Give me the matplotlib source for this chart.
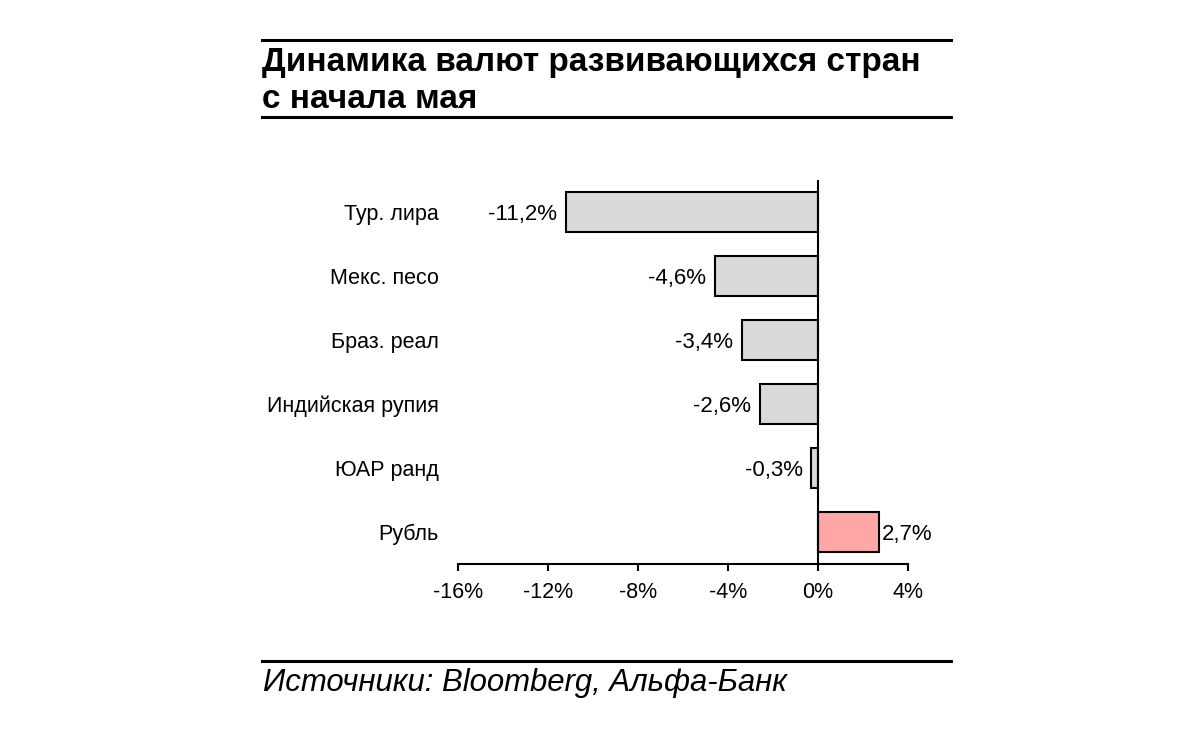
import matplotlib.pyplot as plt
from matplotlib.lines import Line2D

plt.rcParams['font.family'] = ['Liberation Sans', 'DejaVu Sans']

W, H = 1180, 730

categories = ["Тур. лира", "Мекс. песо", "Браз. реал", "Индийская рупия", "ЮАР ранд", "Рубль"]
values = [-11.2, -4.6, -3.4, -2.6, -0.3, 2.7]
value_labels = ["-11,2%", "-4,6%", "-3,4%", "-2,6%", "-0,3%", "2,7%"]
xticks = [-16, -12, -8, -4, 0, 4]
xtick_labels = ["-16%", "-12%", "-8%", "-4%", "0%", "4%"]
colors = ["#D9D9D9"] * 5 + ["#FFA6A6"]


def fx(px):
    return px / W


def fy(py):
    return 1 - py / H


fig = plt.figure(figsize=(W / 100, H / 100), dpi=100)
ax = fig.add_axes([fx(458), fy(564), fx(908) - fx(458), fy(180) - fy(564)])

y = list(range(len(categories)))
ax.barh(y, values, height=0.625, color=colors, edgecolor="black", linewidth=1.5, zorder=2)
ax.axvline(0, color="black", linewidth=1.5, zorder=3)

for yi, v, lab in zip(y, values, value_labels):
    if v < 0:
        ax.text(v - 0.38, yi, lab, ha="right", va="center_baseline", fontsize=16)
    else:
        ax.text(v + 0.12, yi, lab, ha="left", va="center_baseline", fontsize=16)

ax.set_xlim(-16, 4)
ax.set_ylim(len(categories) - 0.5, -0.5)
ax.set_xticks(xticks)
ax.set_xticklabels(xtick_labels, fontsize=15.5)
ax.set_yticks(y)
ax.set_yticklabels(categories, fontsize=15.5, va="center_baseline")
ax.tick_params(axis="y", length=0, pad=14)
ax.tick_params(axis="x", length=5, width=1.5, pad=8, direction="out")
for s in ["top", "right", "left"]:
    ax.spines[s].set_visible(False)
ax.spines["bottom"].set_linewidth(1.5)

# title block
for py in [40, 117]:
    fig.add_artist(Line2D([fx(262), fx(951)], [fy(py), fy(py)], color="black", linewidth=2.2))
fig.text(fx(262), fy(71), "Динамика валют развивающихся стран", fontsize=24, fontweight="bold",
         ha="left", va="baseline")
fig.text(fx(262), fy(108), "с начала мая", fontsize=24, fontweight="bold", ha="left", va="baseline")

# source
fig.add_artist(Line2D([fx(262), fx(951)], [fy(661), fy(661)], color="black", linewidth=2.2))
fig.text(fx(263), fy(691), "Источники: Bloomberg, Альфа-Банк", fontsize=22.4, style="italic",
         ha="left", va="baseline")

fig.savefig("out.png", dpi=100)
